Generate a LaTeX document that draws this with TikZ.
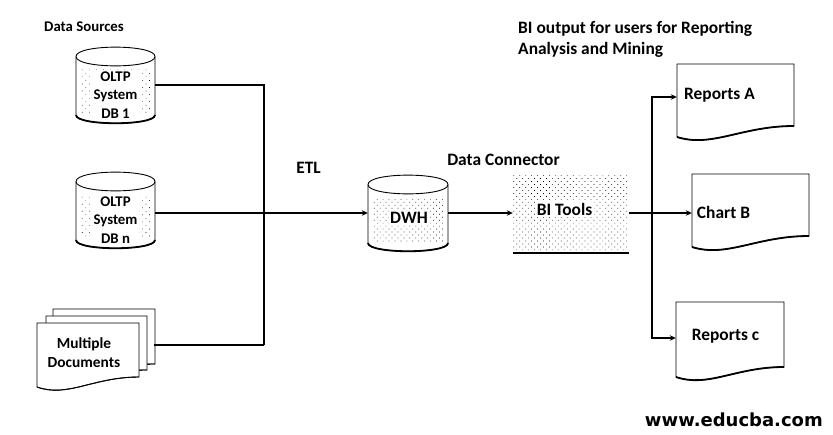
\documentclass[tikz,border=0pt]{standalone}
\usepackage{fontspec}
\setmainfont{Carlito}
\newfontfamily\webfont{DejaVu Sans}
\usetikzlibrary{arrows.meta,patterns.meta}
\tikzset{
  outline/.style={draw=black,line width=0.9pt,fill=white},
  heavy/.style={draw=black,line width=1.8pt},
  wire/.style={draw=black,line width=1.5pt},
  bus/.style={draw=black,line width=1.9pt},
  arrowwire/.style={wire,-{Stealth[length=6pt,width=5.5pt]}},
  busarrow/.style={bus,-{Stealth[length=6pt,width=5.5pt]}},
  sparse/.style={pattern={Dots[distance=5pt,angle=45,radius=0.45pt,xshift=1pt]}},
  dense/.style={pattern={Dots[distance=4.2pt,angle=45,radius=0.5pt]}},
  lab/.style={font=\fontsize{14.8}{18.5}\selectfont\bfseries,inner sep=0pt,align=center},
  biglab/.style={font=\fontsize{17.4}{21}\selectfont\bfseries,inner sep=0pt,align=center},
  halo/.style={fill=white,inner xsep=1.5pt,inner ysep=1.5pt},
  anchorbox/.style={inner sep=0pt,draw=none,minimum height=2pt},
}
% #1 name, #2 left x, #3 right x, #4 top y, #5 connector y, #6 dots style
\newcommand{\dbdrum}[6]{%
  \path[outline] (#2,#4+9.5) -- (#2,#4+68) .. controls (#2,#4+79) and (#3,#4+79) .. (#3,#4+68) -- (#3,#4+9.5)
     .. controls (#3,#4-3) and (#2,#4-3) .. (#2,#4+9.5) -- cycle;
  \path[outline] (#2,#4+9.5) .. controls (#2,#4+22) and (#3,#4+22) .. (#3,#4+9.5);
  \path[#6] (#2+4,#4+22) -- (#3-4,#4+22) -- (#3-4,#4+66) -- (#2+4,#4+66) -- cycle;
  \path[heavy] (#2,#4+68) .. controls (#2,#4+79) and (#3,#4+79) .. (#3,#4+68);
  \node[anchorbox,minimum width=#3-#2] (#1) at ({(#2+#3)/2},#5) {};
}
% #1 name, #2 left, #3 right, #4 top, #5 right-bottom, #6 left-bottom, #7 wave width, #8 connector y
\newcommand{\paper}[8]{%
  \path[outline] (#2,#4) -- (#3,#4) -- (#3,#5)
     .. controls ({#3-(#3-#2)*0.45},#5) and ({#2+(#3-#2)*0.3},#6+11) .. (#2,#6) -- cycle;
  \path[draw=black,line width=#7] (#3,#5)
     .. controls ({#3-(#3-#2)*0.45},#5) and ({#2+(#3-#2)*0.3},#6+11) .. (#2,#6);
  \node[anchorbox,minimum width=#3-#2] (#1) at ({(#2+#3)/2},#8) {};
}
\begin{document}
\begin{tikzpicture}[x=1pt,y=-1pt]
\useasboundingbox (0,0) rectangle (833,434);

\node[lab,anchor=west] (t1) at (44,27) {Data Sources};
\node[biglab,anchor=west,align=left] (t2) at (518,39.5) {BI output for users for Reporting\\Analysis and Mining};
\node[biglab] (t3) at (308.5,168) {ETL};
\node[biglab] (t4) at (503.5,160) {Data Connector};

\dbdrum{dba}{76}{155}{47}{85}{sparse}
\node[lab,halo] (dbat) at (115.5,95) {OLTP\\System\\DB 1};
\dbdrum{dbb}{76}{155}{172}{213}{sparse}
\node[lab,halo] (dbbt) at (115.5,220) {OLTP\\System\\DB n};
\dbdrum{dwh}{368}{448}{175}{213}{dense}
\node[biglab,halo] (dwht) at (409,218) {DWH};

% stacked documents
\paper{dc}{53}{155}{309}{364}{364}{0.9pt}{344}
\paper{db}{46}{147}{316}{370}{370}{0.9pt}{344}
\paper{da}{37}{139}{323}{377}{387}{0.9pt}{344}
\node[lab,font=\fontsize{15.4}{18.5}\selectfont\bfseries] (dat) at (84,352.5) {Multiple\\Documents};

% BI tools
\path[dense] (513,175) rectangle (629,252);
\node[anchorbox,minimum width=116] (bi) at (571,213) {};
\draw[heavy] (513,253) -- (629,253);
\node[biglab,halo] (bit) at (564.5,209) {BI Tools};

% outputs
\paper{ra}{677}{794}{64}{126}{137}{1.8pt}{97}
\node[biglab] (rat) at (719.5,95) {Reports A};
\paper{cb}{692}{809}{174}{236}{247}{1.8pt}{213}
\node[biglab] (cbt) at (723.5,212.5) {Chart B};
\paper{rc}{676}{784}{302}{367}{377}{1.8pt}{338}
\node[biglab] (rct) at (725.5,336) {Reports c};

% connectors
\coordinate (busjoin) at (264,345);
\draw[bus] (dba.east) -| (busjoin);
\draw[bus] (dc.east) |- (busjoin);
\draw[arrowwire] (dbb.east) -- (dwh.west);
\draw[arrowwire] (dwh.east) -- (bi.west);
\draw[arrowwire] (bi.east) -- (cb.west);
\coordinate (splitjoin) at (652,213);
\draw[busarrow] (splitjoin) |- (ra.west);
\draw[busarrow] (splitjoin) |- (rc.west);

\node[font=\webfont\fontsize{18}{22}\selectfont\bfseries,inner sep=0pt,anchor=east] (web) at (823,420) {www.educba.com};
\end{tikzpicture}
\end{document}
